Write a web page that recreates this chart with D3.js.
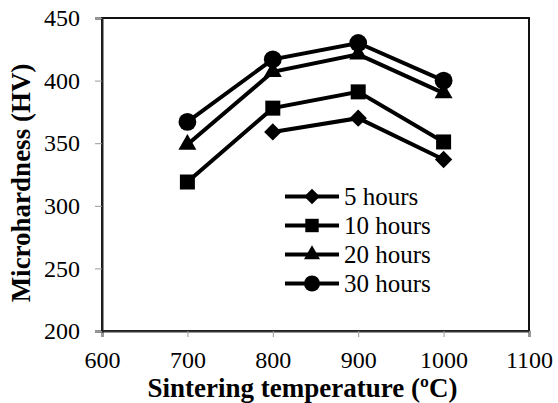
<!DOCTYPE html>
<html>
<head>
<meta charset="utf-8">
<script src="https://cdn.jsdelivr.net/npm/d3@7"></script>
<style>
  body { margin: 0; background: #fff; }
</style>
</head>
<body>
<div id="chart"></div>
<script>
// Sintering temperatures (x values)
const temps = [700, 800, 900, 1000];

// Microhardness values per milling time (null = no point)
const hours5  = [null, 359, 370, 337];
const hours10 = [319, 378, 391, 351];
const hours20 = [349, 407, 421, 390];
const hours30 = [367, 417, 430, 400];

const seriesNames = ["5 hours", "10 hours", "20 hours", "30 hours"];
const xTicks = [600, 700, 800, 900, 1000, 1100];
const yTicks = [200, 250, 300, 350, 400, 450];

const FONT = "'Liberation Serif', 'Times New Roman', Times, serif";

var margin = {top: 18, right: 29, bottom: 72, left: 102},
    width = 558 - margin.left - margin.right,
    height = 403 - margin.top - margin.bottom;

var svg = d3.select("#chart")
  .append("svg")
  .attr("width", 558)
  .attr("height", 403)
  .append("g")
  .attr("transform", "translate(" + margin.left + "," + margin.top + ")");

var x = d3.scaleLinear().domain([600, 1100]).range([0, width]);
var y = d3.scaleLinear().domain([200, 450]).range([height, 0]);

// Plot frame
svg.append("rect")
  .attr("width", width).attr("height", height)
  .attr("fill", "none").attr("stroke", "#111").attr("stroke-width", 2);

// X axis
var xAxis = svg.append("g")
  .attr("transform", "translate(0," + height + ")")
  .call(d3.axisBottom(x).tickValues(xTicks).tickFormat(d3.format("d")).tickSize(6).tickPadding(14));
xAxis.select(".domain").attr("stroke", "#333").attr("stroke-width", 2);
xAxis.selectAll(".tick line").attr("stroke", "#999");

// Y axis
var yAxis = svg.append("g")
  .call(d3.axisLeft(y).tickValues(yTicks).tickSize(7).tickPadding(15));
yAxis.select(".domain").attr("stroke", "#222").attr("stroke-width", 2);
yAxis.selectAll(".tick line").attr("stroke", "#999");

svg.selectAll(".tick text")
  .style("font-family", FONT)
  .style("font-size", "24px")
  .attr("fill", "#000");

// Series
var series = [hours5, hours10, hours20, hours30].map(function(vals, i) {
  return {
    name: seriesNames[i],
    points: temps.map(function(t, j) { return {x: t, y: vals[j]}; })
                 .filter(function(d) { return d.y != null; })
  };
});

// Diamond is a square turned by 45 degrees
var symbols = [d3.symbolSquare, d3.symbolSquare, d3.symbolTriangle, d3.symbolCircle];
var sizes = [150, 225, 140, 250];
var turns = [45, 0, 0, 0];

var line = d3.line()
  .x(function(d) { return x(d.x); })
  .y(function(d) { return y(d.y); });

series.forEach(function(s, i) {
  svg.append("path")
    .datum(s.points)
    .attr("d", line)
    .attr("fill", "none")
    .attr("stroke", "#000")
    .attr("stroke-width", 4);

  svg.selectAll(".pt" + i)
    .data(s.points)
    .enter()
    .append("path")
    .attr("d", d3.symbol().type(symbols[i]).size(sizes[i]))
    .attr("transform", function(d) {
      return "translate(" + x(d.x) + "," + y(d.y) + ") rotate(" + turns[i] + ")";
    })
    .attr("fill", "#000");
});

// Legend
var legend = svg.append("g")
  .attr("transform", "translate(183,178.5)");

seriesNames.forEach(function(name, i) {
  var g = legend.append("g").attr("transform", "translate(0," + (i * 29) + ")");
  g.append("line")
    .attr("x1", 0).attr("x2", 54)
    .attr("stroke", "#000").attr("stroke-width", 4);
  g.append("path")
    .attr("d", d3.symbol().type(symbols[i]).size(sizes[i] * 0.8))
    .attr("transform", "translate(27,0) rotate(" + turns[i] + ")")
    .attr("fill", "#000");
  g.append("text")
    .attr("x", 59).attr("y", 8.5)
    .style("font-family", FONT)
    .style("font-size", "25px")
    .text(name);
});

// X axis label
svg.append("text")
  .attr("x", width / 2 - 13)
  .attr("y", height + 65.5)
  .style("font-family", FONT)
  .style("font-size", "27px")
  .style("font-weight", "bold")
  .style("text-anchor", "middle")
  .text("Sintering temperature (\u00BAC)");

// Y axis label
svg.append("text")
  .attr("transform", "rotate(-90)")
  .attr("x", -165)
  .attr("y", -margin.left + 29.5)
  .style("font-family", FONT)
  .style("font-size", "27px")
  .style("font-weight", "bold")
  .style("text-anchor", "middle")
  .text("Microhardness (HV)");
</script>
</body>
</html>
